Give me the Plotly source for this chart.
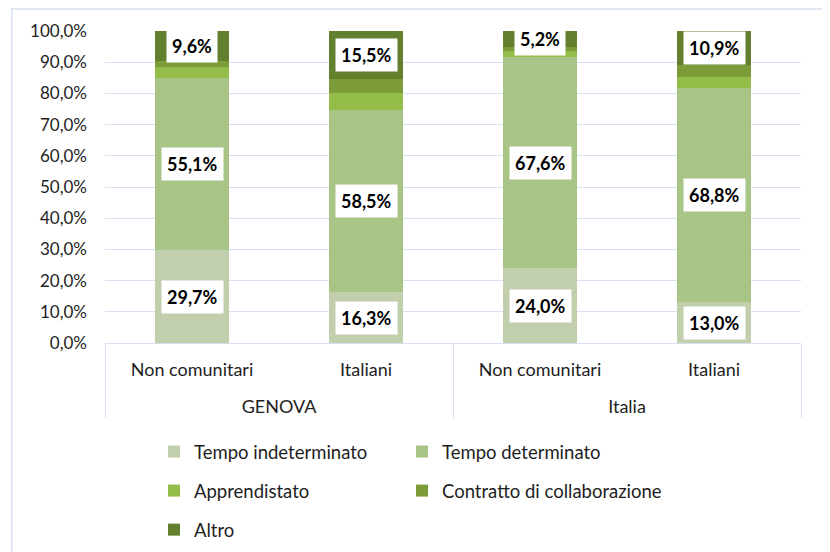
import plotly.graph_objects as go

groups = ["GENOVA", "GENOVA", "Italia", "Italia"]
subcats = ["Non comunitari", "Italiani", "Non comunitari", "Italiani"]
series_names = ["Tempo indeterminato", "Tempo determinato", "Apprendistato",
                "Contratto di collaborazione", "Altro"]
tempo_indeterminato = [29.7, 16.3, 24.0, 13.0]
tempo_determinato = [55.1, 58.5, 67.6, 68.8]
apprendistato = [3.8, 5.4, 2.0, 3.4]
collaborazione = [1.8, 4.3, 1.2, 3.9]
altro = [9.6, 15.5, 5.2, 10.9]
y_ticks = [0, 10, 20, 30, 40, 50, 60, 70, 80, 90, 100]

series_values = [tempo_indeterminato, tempo_determinato, apprendistato, collaborazione, altro]
colors = ["#c2cfad", "#a8c487", "#93bd48", "#7b9c39", "#62802d"]
labelled = [0, 1, 4]
legend_of = ["legend", "legend2", "legend", "legend2", "legend"]

FONT = "Lato"
TXT = "#1e1e1e"
# extra blank line pushes the group row further down, as in the reference
x_sub = [s + "<br> " for s in subcats]

fig = go.Figure()
for i, (name, vals) in enumerate(zip(series_names, series_values)):
    fig.add_trace(go.Bar(
        name=name, x=[groups, x_sub], y=vals,
        marker=dict(color=colors[i], line=dict(width=0)),
        legend=legend_of[i], legendgroup=name,
        hoverinfo="skip",
    ))

annotations = []
base = [0.0] * 4
for i, vals in enumerate(series_values):
    for j, v in enumerate(vals):
        if i in labelled:
            annotations.append(dict(
                x=j, y=base[j] + v / 2, xref="x", yref="y",
                text="<b>" + f"{v:.1f}".replace(".", ",") + "%</b>",
                showarrow=False, bgcolor="white", borderpad=5,
                font=dict(family=FONT, size=18, color="black"),
            ))
        base[j] += v

legend_common = dict(xanchor="left", yanchor="top", orientation="v",
                     xref="container", yref="container",
                     traceorder="grouped", tracegroupgap=12,
                     font=dict(family=FONT, size=18.5, color=TXT),
                     bgcolor="rgba(0,0,0,0)")

W, H = 822, 544
fig.update_layout(
    barmode="stack",
    bargap=0.58,
    width=W, height=H,
    margin=dict(l=97, r=29, t=23, b=209, autoexpand=False),
    plot_bgcolor="white", paper_bgcolor="white",
    font=dict(family=FONT, size=17, color=TXT),
    annotations=annotations,
    legend=dict(x=146 / W, y=1 - 425 / H, **legend_common),
    legend2=dict(x=394 / W, y=1 - 425 / H, **legend_common),
    shapes=[dict(type="rect", xref="paper", yref="paper",
                 x0=-0.134, x1=1.0316, y0=-0.676, y1=1.0705,
                 line=dict(color="#d6dfec", width=1.5), layer="below")],
)
fig.update_yaxes(range=[0, 100], tickvals=y_ticks,
                 ticktext=[f"{v:.1f}".replace(".", ",") + "%" for v in y_ticks],
                 showgrid=True, gridcolor="#d6e0f0", gridwidth=1.2,
                 zeroline=False, showline=False, ticks="", ticklabelstandoff=17,
                 automargin=False,
                 tickfont=dict(family=FONT, size=17, color=TXT))
fig.update_xaxes(showgrid=False, showline=True, linecolor="#d6e0f0", linewidth=1.2,
                 showdividers=True, dividercolor="#d6e0f0", dividerwidth=1.2,
                 ticks="", ticklabelstandoff=10, automargin=False,
                 tickfont=dict(family=FONT, size=18, color=TXT))

fig.write_html("out.html")
